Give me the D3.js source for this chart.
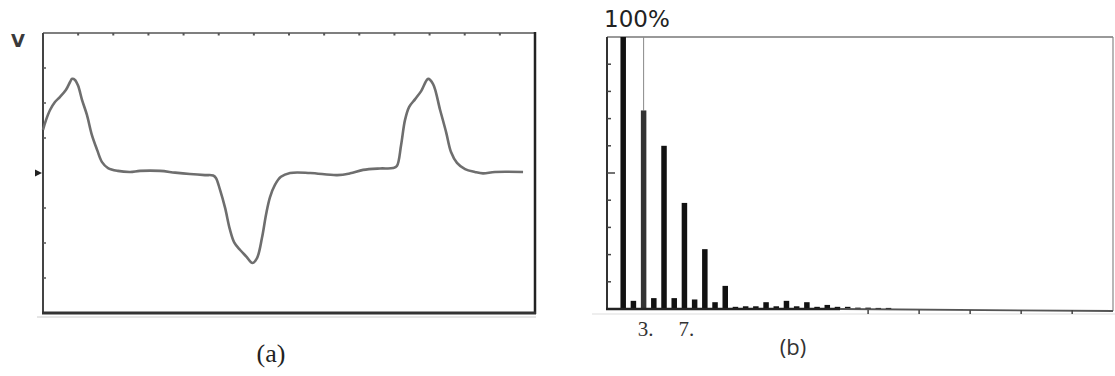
<!DOCTYPE html>
<html>
<head>
<meta charset="utf-8">
<script src="https://cdn.jsdelivr.net/npm/d3@7"></script>
<style>
  body { margin: 0; background: #fff; }
  svg { display: block; }
</style>
</head>
<body>
<svg id="chart" width="1115" height="376"></svg>
<script>
// (a) waveform, x in grid divisions (0..14), v in divisions from baseline
var waveT = [0, 0.085, 0.2, 0.34, 0.48, 0.65, 0.77, 0.83, 0.91, 1.0, 1.11, 1.25, 1.39, 1.54, 1.68, 1.85,
  2.13, 2.48, 2.76, 3.33, 3.76, 4.18, 4.61, 4.84, 4.92, 5.04, 5.18, 5.32, 5.44, 5.61, 5.78, 5.96,
  6.09, 6.23, 6.35, 6.46, 6.6, 6.77, 7.03, 7.6, 8.37, 8.74, 9.11, 9.59, 9.96, 10.07, 10.19, 10.3,
  10.42, 10.59, 10.76, 10.96, 11.1, 11.3, 11.47, 11.61, 11.78, 12.01, 12.29, 12.52, 12.86, 13.66];
var waveV = [1.23, 1.51, 1.8, 2.03, 2.17, 2.37, 2.6, 2.69, 2.66, 2.49, 2.09, 1.66, 1.09, 0.66, 0.31, 0.14,
  0.06, 0.03, 0.06, 0.06, 0.01, -0.03, -0.06, -0.07, -0.14, -0.49, -0.99, -1.62, -1.98, -2.2, -2.38, -2.57,
  -2.43, -1.86, -1.17, -0.69, -0.34, -0.11, 0, 0, -0.06, -0.01, 0.09, 0.13, 0.14, 0.2, 0.8, 1.51,
  1.89, 2.11, 2.34, 2.69, 2.54, 1.8, 1.17, 0.6, 0.29, 0.11, 0.03, -0.01, 0.03, 0.03];

// (b) harmonic spectrum, percent of fundamental
var harmonics = [1, 2, 3, 4, 5, 6, 7, 8, 9, 10, 11, 12, 13, 14, 15, 16, 17, 18, 19, 20, 21, 22, 23, 24, 25, 26, 27];
var amplitude = [100, 3, 73, 4, 60, 4, 39, 3.5, 22, 2.5, 8.5, 0.8, 1, 1, 2.5, 1, 3, 1, 2.5, 0.8, 1.5, 0.8, 0.8, 0.5, 0.5, 0.4, 0.4];
var harmonicLabels = [3, 7];
var bottomTicks = [25, 30, 35, 40, 45];

var svg = d3.select("#chart");

svg.append("rect")
    .attr("width", 1115)
    .attr("height", 376)
    .attr("fill", "#fff");

// ---------- (a) ----------
var xa = d3.scaleLinear().domain([0, 14]).range([43, 535]),
    ya = d3.scaleLinear().domain([-4, 4]).range([313, 33]);

var ga = svg.append("g");

// faint shadow line under the bottom edge
ga.append("line")
    .attr("x1", 37).attr("x2", 536)
    .attr("y1", 317).attr("y2", 317)
    .attr("stroke", "#ccc").attr("stroke-width", 1);

ga.append("line")
    .attr("x1", xa(0)).attr("x2", xa(14))
    .attr("y1", ya(4)).attr("y2", ya(4))
    .attr("stroke", "#555").attr("stroke-width", 1.5);
ga.append("line")
    .attr("x1", xa(0)).attr("x2", xa(0))
    .attr("y1", ya(4)).attr("y2", ya(-4))
    .attr("stroke", "#444").attr("stroke-width", 2);
ga.append("line")
    .attr("x1", xa(14)).attr("x2", xa(14))
    .attr("y1", ya(4) - 1).attr("y2", ya(-4) + 1)
    .attr("stroke", "#222").attr("stroke-width", 2.5);
ga.append("line")
    .attr("x1", xa(0) - 1).attr("x2", xa(14) + 1)
    .attr("y1", ya(-4)).attr("y2", ya(-4))
    .attr("stroke", "#333").attr("stroke-width", 3);

// top edge ticks
ga.selectAll(".ttick")
    .data(d3.range(1, 14))
  .enter().append("line")
    .attr("class", "ttick")
    .attr("x1", function(d) { return xa(d); })
    .attr("x2", function(d) { return xa(d); })
    .attr("y1", ya(4)).attr("y2", ya(4) + 2.5)
    .attr("stroke", "#555").attr("stroke-width", 2);

// left edge ticks
ga.selectAll(".ltick")
    .data([3, 2, 1, -1, -2, -3])
  .enter().append("line")
    .attr("class", "ltick")
    .attr("x1", xa(0)).attr("x2", xa(0) + 3)
    .attr("y1", function(d) { return ya(d); })
    .attr("y2", function(d) { return ya(d); })
    .attr("stroke", "#555").attr("stroke-width", 1.5);

// zero marker
ga.append("path")
    .attr("d", "M" + (xa(0) - 8) + "," + (ya(0) - 3.5) + "L" + (xa(0) - 1) + "," + ya(0) + "L" + (xa(0) - 8) + "," + (ya(0) + 3.5) + "Z")
    .attr("fill", "#222");

var wave = d3.range(waveT.length).map(function(i) { return [waveT[i], waveV[i]]; });

ga.append("path")
    .datum(wave)
    .attr("fill", "none")
    .attr("stroke", "#6e6e6e")
    .attr("stroke-width", 2.6)
    .attr("stroke-linejoin", "round")
    .attr("d", d3.line()
        .x(function(d) { return xa(d[0]); })
        .y(function(d) { return ya(d[1]); })
        .curve(d3.curveCatmullRom.alpha(0.5)));

ga.append("text")
    .attr("x", 11).attr("y", 47)
    .attr("font-family", "DejaVu Sans, sans-serif")
    .attr("font-size", 18)
    .attr("font-weight", "bold")
    .attr("fill", "#3a3a3a")
    .text("V");

ga.append("text")
    .attr("x", 271).attr("y", 362)
    .attr("text-anchor", "middle")
    .attr("font-family", "Liberation Serif, serif")
    .attr("font-size", 26)
    .attr("fill", "#222")
    .text("(a)");

// ---------- (b) ----------
var xb = d3.scaleLinear().domain([0, 49]).range([613, 1113]),
    yb = d3.scaleLinear().domain([0, 100]).range([309, 37]);

var gb = svg.append("g");

gb.append("line")
    .attr("x1", 592).attr("x2", 1115)
    .attr("y1", 314).attr("y2", 314)
    .attr("stroke", "#ddd").attr("stroke-width", 1);

gb.append("line")
    .attr("x1", 607).attr("x2", 1113)
    .attr("y1", yb(100)).attr("y2", yb(100))
    .attr("stroke", "#777").attr("stroke-width", 1.5);
gb.append("line")
    .attr("x1", 1113).attr("x2", 1113)
    .attr("y1", yb(100)).attr("y2", yb(0) + 2)
    .attr("stroke", "#888").attr("stroke-width", 1.2);
gb.append("line")
    .attr("x1", 607).attr("x2", 607)
    .attr("y1", yb(100)).attr("y2", yb(0))
    .attr("stroke", "#333").attr("stroke-width", 2);

// left scale ticks every 10%
gb.selectAll(".ytick")
    .data(d3.range(10, 100, 10))
  .enter().append("line")
    .attr("class", "ytick")
    .attr("x1", 607)
    .attr("x2", function(d) { return d === 50 ? 615 : 611; })
    .attr("y1", function(d) { return yb(d); })
    .attr("y2", function(d) { return yb(d); })
    .attr("stroke", "#444").attr("stroke-width", 1.5);

// cursor line on the 3rd harmonic
gb.append("line")
    .attr("x1", xb(3)).attr("x2", xb(3))
    .attr("y1", yb(100)).attr("y2", yb(73))
    .attr("stroke", "#888").attr("stroke-width", 1);

gb.selectAll(".bar")
    .data(harmonics)
  .enter().append("rect")
    .attr("class", "bar")
    .attr("x", function(d) { return xb(d) - 2.75; })
    .attr("width", 5.5)
    .attr("y", function(d, i) { return yb(amplitude[i]); })
    .attr("height", function(d, i) { return yb(0) - yb(amplitude[i]); })
    .attr("fill", function(d) { return d === 3 ? "#333" : "#111"; });

gb.append("line")
    .attr("x1", 606).attr("x2", 840)
    .attr("y1", yb(0)).attr("y2", yb(0))
    .attr("stroke", "#222").attr("stroke-width", 2.5);
gb.append("line")
    .attr("x1", 840).attr("x2", 1113)
    .attr("y1", yb(0)).attr("y2", yb(0) + 2)
    .attr("stroke", "#555").attr("stroke-width", 1.8);

gb.selectAll(".btick")
    .data(bottomTicks)
  .enter().append("line")
    .attr("class", "btick")
    .attr("x1", function(d) { return xb(d); })
    .attr("x2", function(d) { return xb(d); })
    .attr("y1", function(d) { return yb(0) + 1; })
    .attr("y2", function(d) { return yb(0) + 5; })
    .attr("stroke", "#444").attr("stroke-width", 1.5);

gb.selectAll(".hlabel")
    .data(harmonicLabels)
  .enter().append("text")
    .attr("class", "hlabel")
    .attr("x", function(d) { return xb(d) + 2; })
    .attr("y", 336)
    .attr("text-anchor", "middle")
    .attr("font-family", "Liberation Serif, serif")
    .attr("font-size", 21)
    .attr("fill", "#333")
    .text(function(d) { return d + "."; });

gb.append("text")
    .attr("x", 604).attr("y", 27)
    .attr("font-family", "DejaVu Sans, sans-serif")
    .attr("font-size", 23)
    .attr("fill", "#222")
    .text("100%");

gb.append("text")
    .attr("x", 793).attr("y", 355)
    .attr("text-anchor", "middle")
    .attr("font-family", "Open Sans, sans-serif")
    .attr("font-size", 22)
    .attr("fill", "#333")
    .text("(b)");
</script>
</body>
</html>
